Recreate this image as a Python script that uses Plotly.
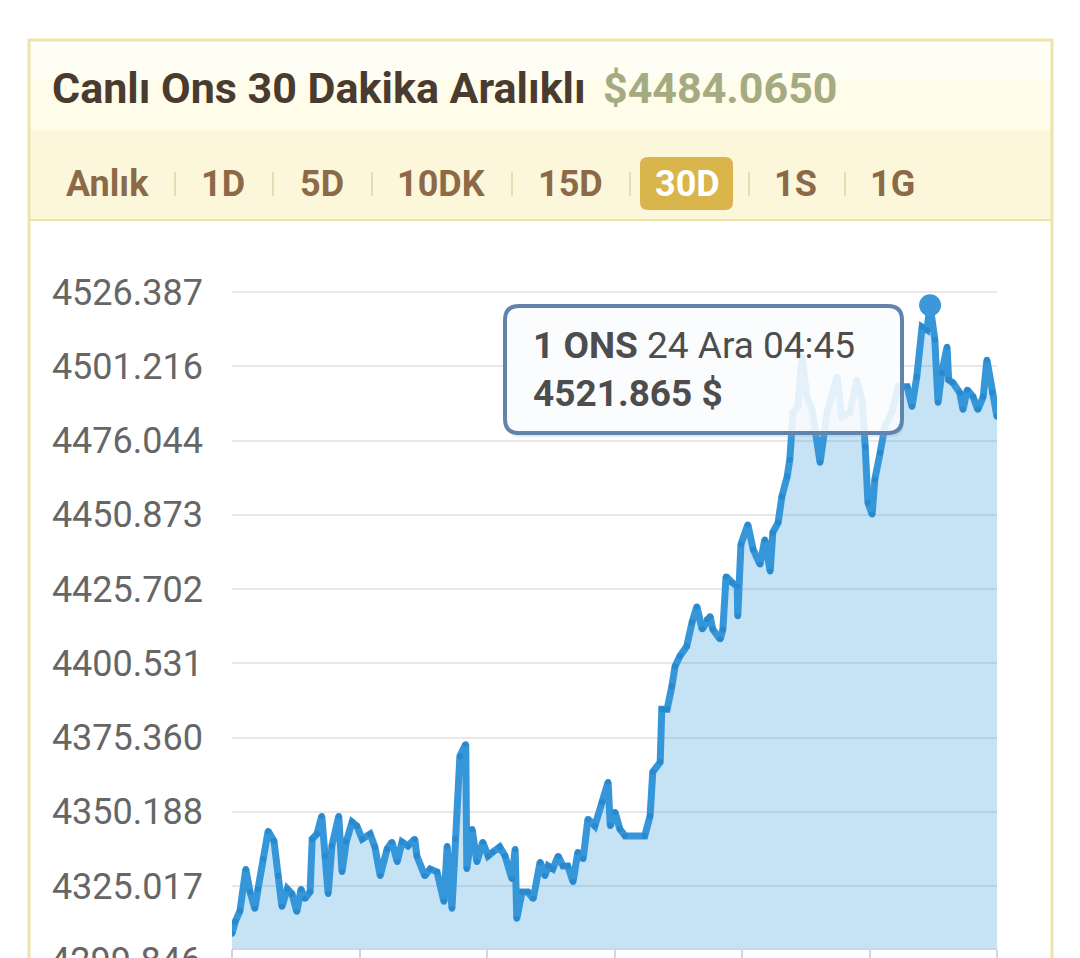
import plotly.graph_objects as go

# Ons altın fiyatı, 30 dakika aralıklı (saat: ilk noktadan itibaren geçen süre)
saat = [
    0.0, 0.6, 1.5, 2.6, 3.4, 4.3, 4.9, 5.8, 6.8, 7.9, 8.7, 9.4, 10.4, 11.3, 12.2, 13.0,
    13.7, 14.7, 15.1, 16.0, 16.9, 17.5, 18.1, 18.8, 20.1, 20.7, 21.5, 22.6, 23.5, 24.5,
    26.0, 26.9, 27.9, 29.2, 30.1, 31.1, 32.0, 33.1, 34.4, 34.8, 36.3, 37.3, 38.6, 39.9,
    40.5, 41.4, 42.0, 42.9, 44.0, 44.2, 45.2, 46.1, 47.2, 48.2, 49.1, 50.4, 51.4, 52.7,
    53.3, 53.6, 54.6, 55.7, 56.7, 58.0, 58.9, 59.5, 60.4, 61.4, 62.3, 63.2, 64.2, 65.1,
    66.1, 67.0, 68.3, 69.6, 70.8, 71.2, 72.1, 73.0, 74.0, 77.7, 78.7, 79.2, 80.6, 80.9,
    81.9, 82.8, 83.4, 84.3, 85.6, 86.6, 87.5, 88.5, 89.4, 90.0, 90.5, 91.9, 92.4, 93.0,
    94.1, 95.1, 95.2, 95.8, 97.1, 98.1, 99.4, 100.3, 101.3, 101.8, 102.8, 103.5, 104.5,
    105.0, 105.6, 106.5, 107.3, 108.2, 109.2, 110.7, 112.0, 113.9, 114.8, 116.3, 117.6,
    118.6, 119.2, 119.7, 120.5, 121.0, 122.0, 122.9, 124.2, 125.4, 127.1, 128.0, 128.9,
    129.9, 130.8, 131.4, 132.3, 132.9, 133.6, 134.6, 134.9, 135.7, 137.0, 137.6, 138.4,
    139.5, 140.4, 141.4, 142.1, 143.1, 144.0,
]
fiyat = [
    4308.85, 4312.91, 4316.63, 4330.84, 4323.06, 4317.31, 4324.07, 4334.22, 4343.70, 4340.31,
    4328.47, 4317.98, 4324.07, 4322.38, 4316.29, 4324.07, 4320.69, 4323.06, 4340.99, 4342.68,
    4348.77, 4335.24, 4322.38, 4338.62, 4348.77, 4329.83, 4339.98, 4346.74, 4345.39, 4340.99,
    4342.68, 4338.29, 4328.47, 4337.61, 4339.98, 4333.21, 4339.98, 4338.62, 4340.99, 4335.24,
    4328.47, 4330.84, 4329.83, 4319.68, 4338.62, 4317.31, 4340.99, 4369.07, 4373.13, 4330.84,
    4344.37, 4333.21, 4339.98, 4335.24, 4336.59, 4338.29, 4335.24, 4327.46, 4337.61, 4313.93,
    4323.06, 4323.06, 4320.69, 4333.21, 4328.47, 4331.86, 4330.84, 4335.24, 4331.86, 4331.86,
    4326.44, 4336.59, 4334.22, 4347.76, 4345.39, 4353.51, 4360.27, 4345.39, 4350.13, 4344.37,
    4342.01, 4342.01, 4348.77, 4363.66, 4367.04, 4384.97, 4384.97, 4392.75, 4399.52, 4402.90,
    4406.29, 4414.41, 4419.82, 4412.04, 4415.42, 4416.44, 4412.04, 4408.65, 4412.04, 4429.97,
    4427.94, 4426.59, 4416.44, 4440.80, 4447.56, 4439.10, 4434.03, 4442.49, 4431.66, 4444.85,
    4448.24, 4457.03, 4463.80, 4469.55, 4485.45, 4487.48, 4504.40, 4490.87, 4486.47, 4468.54,
    4485.45, 4497.63, 4484.10, 4485.45, 4496.62, 4489.85, 4473.95, 4455.00, 4450.95, 4462.79,
    4471.92, 4480.72, 4485.45, 4494.25, 4494.25, 4487.48, 4497.63, 4514.55, 4513.53, 4521.865,
    4510.15, 4488.84, 4498.99, 4507.78, 4496.62, 4495.60, 4492.22, 4486.47, 4493.23, 4490.87,
    4486.47, 4490.87, 4503.38, 4492.22, 4484.07,
]

y_ticks = [4299.846, 4325.017, 4350.188, 4375.360, 4400.531, 4425.702,
           4450.873, 4476.044, 4501.216, 4526.387]
x_ticks = [0, 24, 48, 72, 96, 120, 144]

baslik = "Canlı Ons 30 Dakika Aralıklı"
son_fiyat = "$4484.0650"
sekmeler = ["Anlık", "1D", "5D", "10DK", "15D", "30D", "1S", "1G"]
secili_sekme = "30D"
ipucu_saat = 131.4
ipucu_zaman = "24 Ara 04:45"
ipucu_deger = 4521.865

# sayfa pikseli -> paper koordinatı
L, R, T, B = 232, 997, 270, 948


def fx(p):
    return (p - L) / (R - L)


def fy(p):
    return (B - p) / (B - T)


def yuvarlak_kutu(x0, y0, x1, y1, r):
    pts = [
        f"M {fx(x0 + r)},{fy(y0)}",
        f"L {fx(x1 - r)},{fy(y0)}", f"Q {fx(x1)},{fy(y0)} {fx(x1)},{fy(y0 + r)}",
        f"L {fx(x1)},{fy(y1 - r)}", f"Q {fx(x1)},{fy(y1)} {fx(x1 - r)},{fy(y1)}",
        f"L {fx(x0 + r)},{fy(y1)}", f"Q {fx(x0)},{fy(y1)} {fx(x0)},{fy(y1 - r)}",
        f"L {fx(x0)},{fy(y0 + r)}", f"Q {fx(x0)},{fy(y0)} {fx(x0 + r)},{fy(y0)}", "Z",
    ]
    return " ".join(pts)


fig = go.Figure()

fig.add_trace(go.Scatter(
    x=saat, y=fiyat, mode="lines+markers",
    line=dict(color="#3596da", width=7),
    marker=dict(size=6, color="#2a88cc"),
    fill="tozeroy", fillcolor="rgba(52,152,219,0.28)",
    hoverinfo="skip", showlegend=False,
))
fig.add_trace(go.Scatter(
    x=[ipucu_saat], y=[ipucu_deger], mode="markers",
    marker=dict(size=22, color="#3d98da"),
    hoverinfo="skip", showlegend=False, cliponaxis=False,
))

shapes = [
    # kart çerçevesi ve başlık alanları
    dict(type="rect", xref="paper", yref="paper", x0=fx(30), x1=fx(1051), y0=fy(41), y1=fy(130),
         fillcolor="#fffcea", line_width=0, layer="below"),
    dict(type="rect", xref="paper", yref="paper", x0=fx(30), x1=fx(1051), y0=fy(41), y1=fy(80),
         fillcolor="#fffef4", line_width=0, layer="below"),
    dict(type="rect", xref="paper", yref="paper", x0=fx(30), x1=fx(1051), y0=fy(130), y1=fy(220),
         fillcolor="#fcf7da", line_width=0, layer="below"),
    dict(type="line", xref="paper", yref="paper", x0=fx(30), x1=fx(1051), y0=fy(220), y1=fy(220),
         line=dict(color="#ede2a8", width=2), layer="below"),
    dict(type="rect", xref="paper", yref="paper", x0=fx(29), x1=fx(1052), y0=fy(40), y1=fy(1010),
         line=dict(color="#eee3ab", width=3), layer="below"),
    # seçili sekme
    dict(type="path", xref="paper", yref="paper", path=yuvarlak_kutu(640, 157, 733, 210, 8),
         fillcolor="#d9b54b", line_width=0, layer="below"),
    # ipucu kutusu
    dict(type="path", xref="paper", yref="paper", path=yuvarlak_kutu(507, 310, 904, 437, 14),
         fillcolor="rgba(140,175,215,0.25)", line_width=0, layer="above"),
    dict(type="path", xref="paper", yref="paper", path=yuvarlak_kutu(505, 306, 902, 433, 14),
         fillcolor="rgba(255,255,255,0.86)", line=dict(color="#6184ad", width=4), layer="above"),
]

ayrac_x = [175, 273, 372, 512, 630, 749, 845]
for xs in ayrac_x:
    shapes.append(dict(type="line", xref="paper", yref="paper", x0=fx(xs), x1=fx(xs),
                       y0=fy(172), y1=fy(196), line=dict(color="#e6dcb4", width=2), layer="below"))

annotations = [
    dict(text=f"<b>{baslik}</b>", x=fx(50), y=fy(88), xanchor="left", yanchor="middle",
         font=dict(family="Roboto", size=43, color="#4a3b30")),
    dict(text=f"<b>{son_fiyat}</b>", x=fx(601), y=fy(88), xanchor="left", yanchor="middle",
         font=dict(family="Roboto", size=43, color="#a4ab80")),
    dict(text=f"<b>1 ONS</b> {ipucu_zaman}<br><b>{ipucu_deger:.3f} $</b>", x=fx(531), y=fy(369),
         xanchor="left", yanchor="middle", align="left",
         font=dict(family="Roboto", size=37, color="#4d4d4d")),
    # kesilmiş en alt eksen etiketi
    dict(text=f"{y_ticks[0]:.3f}", x=fx(203), y=fy(961), xanchor="right", yanchor="middle",
         font=dict(family="Roboto", size=36, color="#666666")),
]

sekme_x = [107, 223, 322, 441, 570, 687, 795, 892]
for ad, xs in zip(sekmeler, sekme_x):
    annotations.append(dict(
        text=f"<b>{ad}</b>", x=fx(xs), y=fy(184), xanchor="center", yanchor="middle",
        font=dict(family="Roboto", size=36, color="#ffffff" if ad == secili_sekme else "#8c6a47"),
    ))

for a in annotations:
    a.update(xref="paper", yref="paper", showarrow=False)

fig.update_layout(
    width=1080, height=958,
    margin=dict(l=L, r=1080 - R, t=T, b=958 - B, pad=0),
    paper_bgcolor="white", plot_bgcolor="white",
    shapes=shapes, annotations=annotations,
    font=dict(family="Roboto"),
)
fig.update_xaxes(
    range=[0, 144], tickvals=x_ticks, showticklabels=False, showgrid=False,
    ticks="outside", ticklen=12, tickwidth=2, tickcolor="#ccd6eb",
    showline=True, linecolor="#ccd6eb", linewidth=2, zeroline=False, automargin=False,
)
fig.update_yaxes(
    range=[4304.04, 4533.83], tickvals=y_ticks, ticktext=[f"{v:.3f}" for v in y_ticks],
    tickfont=dict(family="Roboto", size=36, color="#666666"), ticklabelstandoff=28,
    showgrid=True, gridcolor="#e8e8e8", gridwidth=2, zeroline=False, showline=False,
    automargin=False,
)

fig.write_html(
    "out.html",
    config={"displayModeBar": False},
    post_script="document.body.style.margin='0';document.body.style.overflow='hidden';",
)
